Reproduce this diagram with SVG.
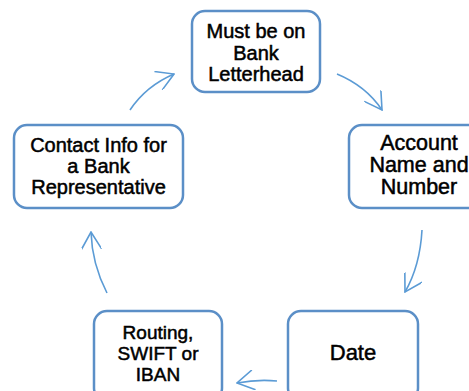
<svg xmlns="http://www.w3.org/2000/svg" width="469" height="391" viewBox="0 0 469 391">
<style>
.box{fill:#ffffff;stroke:#5b8fc7;stroke-width:2.5}
.t{font-family:"Liberation Sans",Arial,sans-serif;fill:#000;stroke:#000;stroke-width:0.5;text-anchor:middle}
.c{fill:none;stroke:#5b9bd5;stroke-width:1.6}
</style>
<defs>
<marker id="ah" viewBox="0 0 20 20" refX="19" refY="10" markerWidth="20" markerHeight="20" markerUnits="userSpaceOnUse" orient="auto">
<path d="M2,0 L19,10 L2,20" fill="none" stroke="#5b9bd5" stroke-width="1.6"/>
</marker>
</defs>
<rect width="469" height="391" fill="#ffffff"/>
<g id="connectors">
<path class="c" d="M130,110 Q146,86 174,74" marker-end="url(#ah)"/>
<path class="c" d="M337,74 Q366,86 382,110" marker-end="url(#ah)"/>
<path class="c" d="M422,230 Q420,266 405,292" marker-end="url(#ah)"/>
<path class="c" d="M277,381 Q258,379 237,383" marker-end="url(#ah)"/>
<path class="c" d="M107,293 Q92,264 91,232" marker-end="url(#ah)"/>
</g>
<g id="n1">
<rect class="box" x="192" y="11" width="128" height="81" rx="13"/>
<text class="t" font-size="20" x="256" y="38">Must be on</text>
<text class="t" font-size="20" x="256" y="59.5">Bank</text>
<text class="t" font-size="20" x="256" y="81">Letterhead</text>
</g>
<g id="n2">
<rect class="box" x="349" y="125" width="141" height="83" rx="13"/>
<text class="t" font-size="21.5" x="419" y="150">Account</text>
<text class="t" font-size="21.5" x="419" y="172">Name and</text>
<text class="t" font-size="21.5" x="419" y="194">Number</text>
</g>
<g id="n3">
<rect class="box" x="288" y="311" width="130" height="90" rx="13"/>
<text class="t" font-size="22" x="353" y="360">Date</text>
</g>
<g id="n4">
<rect class="box" x="94" y="311" width="128" height="90" rx="13"/>
<text class="t" font-size="19" x="158" y="339">Routing,</text>
<text class="t" font-size="19" x="158" y="360">SWIFT or</text>
<text class="t" font-size="19" x="158" y="381">IBAN</text>
</g>
<g id="n5">
<rect class="box" x="14" y="125" width="169" height="83" rx="13"/>
<text class="t" font-size="20" x="98.5" y="152">Contact Info for</text>
<text class="t" font-size="20" x="98.5" y="173">a Bank</text>
<text class="t" font-size="20" x="98.5" y="194">Representative</text>
</g>
</svg>
